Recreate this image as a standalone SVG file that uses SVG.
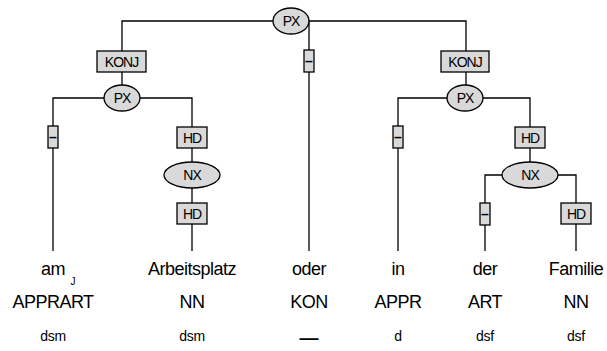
<svg xmlns="http://www.w3.org/2000/svg" width="607" height="351" viewBox="0 0 607 351">
<style>
.n{fill:#d9d9d9;stroke:#000;stroke-width:1.3}
.l{fill:none;stroke:#000;stroke-width:1.3}
.t{font-family:"Liberation Sans",Arial,sans-serif;text-anchor:middle;fill:#000}
.s{font-size:14px;letter-spacing:-1px}
.d{font-size:14px;font-weight:bold}
.w{font-size:18px;letter-spacing:-0.5px}
.f{font-size:14px;letter-spacing:-0.3px}
</style>
<rect width="607" height="351" fill="#fff"/>
<g id="connectors">
<path class="l" d="M122,60 V21 H466 V60"/>
<path class="l" d="M309,21 V251"/>
<path class="l" d="M122,60 V98"/>
<path class="l" d="M53,251 V98 H192 V251"/>
<path class="l" d="M466,60 V98"/>
<path class="l" d="M398,251 V98 H530 V175"/>
<path class="l" d="M485,251 V175 H576 V251"/>
</g>
<g id="px_root"><ellipse class="n" cx="291" cy="21" rx="18" ry="13"/><text class="t s" x="291" y="26">PX</text></g>
<g id="konj_l"><rect class="n" x="97" y="51" width="49" height="21"/><text class="t s" x="121.5" y="66.5">KONJ</text></g>
<g id="dash_mid"><rect class="n" x="304" y="50" width="10" height="22"/><text class="t d" x="309" y="66">–</text></g>
<g id="konj_r"><rect class="n" x="441" y="51" width="48" height="21"/><text class="t s" x="465" y="66.5">KONJ</text></g>
<g id="px_l"><ellipse class="n" cx="122" cy="98" rx="18" ry="13"/><text class="t s" x="122" y="103">PX</text></g>
<g id="px_r"><ellipse class="n" cx="465" cy="98" rx="18" ry="13"/><text class="t s" x="465" y="103">PX</text></g>
<g id="dash_am"><rect class="n" x="48" y="126" width="10" height="22"/><text class="t d" x="53" y="142">–</text></g>
<g id="hd_l1"><rect class="n" x="177" y="127" width="30" height="21"/><text class="t s" x="192" y="142.5">HD</text></g>
<g id="nx_l"><ellipse class="n" cx="192" cy="175" rx="28" ry="13"/><text class="t s" x="192" y="180">NX</text></g>
<g id="hd_l2"><rect class="n" x="177" y="203" width="30" height="21"/><text class="t s" x="192" y="218.5">HD</text></g>
<g id="dash_in"><rect class="n" x="393" y="126" width="10" height="22"/><text class="t d" x="398" y="142">–</text></g>
<g id="hd_r1"><rect class="n" x="515" y="127" width="30" height="21"/><text class="t s" x="530" y="142.5">HD</text></g>
<g id="nx_r"><ellipse class="n" cx="530" cy="175" rx="28" ry="13"/><text class="t s" x="530" y="180">NX</text></g>
<g id="dash_der"><rect class="n" x="480" y="203" width="10" height="22"/><text class="t d" x="485" y="219">–</text></g>
<g id="hd_r2"><rect class="n" x="561" y="203" width="30" height="21"/><text class="t s" x="576" y="218.5">HD</text></g>
<g id="w_am"><text class="t w" x="53" y="275">am</text><text class="t" x="73" y="285" font-size="10">J</text><text class="t w" x="53" y="308">APPRART</text><text class="t f" x="53" y="341">dsm</text></g>
<g id="w_arbeitsplatz"><text class="t w" x="192" y="275">Arbeitsplatz</text><text class="t w" x="192" y="308">NN</text><text class="t f" x="192" y="341">dsm</text></g>
<g id="w_oder"><text class="t w" x="309" y="275">oder</text><text class="t w" x="309" y="308">KON</text><text class="t" x="309" y="344" font-size="19" font-weight="bold">—</text></g>
<g id="w_in"><text class="t w" x="398" y="275">in</text><text class="t w" x="398" y="308">APPR</text><text class="t f" x="398" y="341">d</text></g>
<g id="w_der"><text class="t w" x="485" y="275">der</text><text class="t w" x="485" y="308">ART</text><text class="t f" x="485" y="341">dsf</text></g>
<g id="w_familie"><text class="t w" x="576" y="275">Familie</text><text class="t w" x="576" y="308">NN</text><text class="t f" x="576" y="341">dsf</text></g>
</svg>
